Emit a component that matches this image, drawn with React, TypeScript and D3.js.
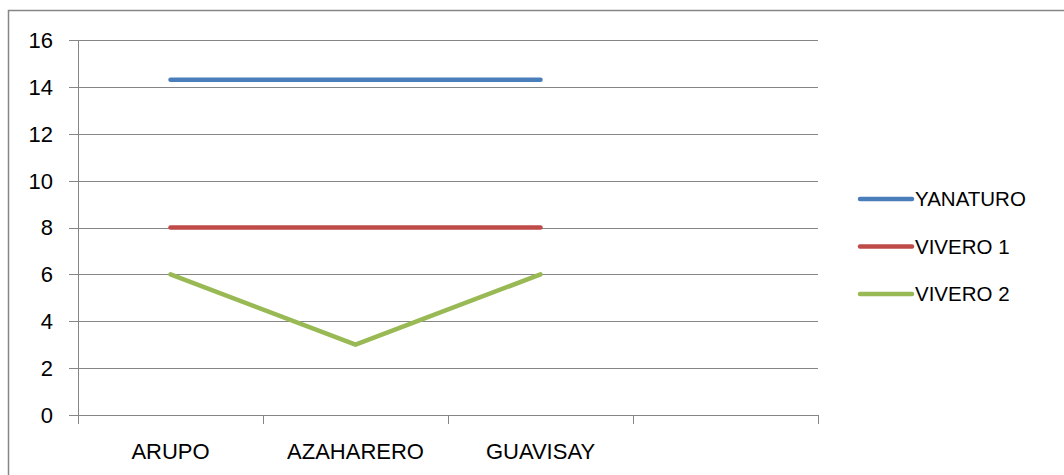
import React from 'react';
import * as d3 from 'd3';

const categories = ['ARUPO', 'AZAHARERO', 'GUAVISAY', ''];
const seriesNames = ['YANATURO', 'VIVERO 1', 'VIVERO 2'];
const yanaturo = [14.3, 14.3, 14.3];
const vivero1 = [8, 8, 8];
const vivero2 = [6, 3, 6];
const yTicks = [0, 2, 4, 6, 8, 10, 12, 14, 16];
const colors = ['#4a7ebb', '#be4b48', '#98b954'];

const W = 1064;
const H = 475;
const M = { top: 40, left: 78, right: 818, bottom: 415 };
const FONT = '"Liberation Sans", Arial, sans-serif';

export default function App() {
  const x = d3.scaleBand<string>().domain(categories.map((c, i) => `${i}`)).range([M.left, M.right]).paddingInner(0).paddingOuter(0);
  const y = d3.scaleLinear().domain([0, 16]).range([M.bottom, M.top]);
  const cx = (i: number) => (x(`${i}`) ?? 0) + x.bandwidth() / 2;

  const line = d3.line<number>().x((_, i) => cx(i)).y(d => y(d));
  const series = [yanaturo, vivero1, vivero2];

  const tickXs = categories.map((_, i) => x(`${i}`) ?? 0).concat([M.right]);

  return (
    <div style={{ position: 'fixed', left: 0, top: 0, width: W, height: H, background: '#fff' }}>
      <svg width={W} height={H} style={{ display: 'block' }} fontFamily={FONT}>
        {/* outer frame */}
        <rect x={8.5} y={10.5} width={W + 10} height={H + 10} fill="none" stroke="#868686" strokeWidth={1.5} />

        {/* gridlines + y ticks */}
        {yTicks.map(t => (
          <g key={t}>
            <line x1={69} x2={M.right} y1={Math.round(y(t)) + 0.5} y2={Math.round(y(t)) + 0.5} stroke="#868686" strokeWidth={1} />
            <text x={53} y={y(t)} dy="0.36em" textAnchor="end" fontSize={22} fill="#000">{t}</text>
          </g>
        ))}

        {/* y axis */}
        <line x1={M.left + 0.5} x2={M.left + 0.5} y1={M.top} y2={M.bottom} stroke="#868686" />

        {/* x ticks */}
        {tickXs.map((tx, i) => (
          <line key={i} x1={Math.round(tx) + 0.5} x2={Math.round(tx) + 0.5} y1={M.bottom} y2={M.bottom + 9} stroke="#868686" />
        ))}

        {/* x labels */}
        {categories.map((c, i) => (
          <text key={i} x={cx(i)} y={459} textAnchor="middle" fontSize={22} fill="#000">{c}</text>
        ))}

        {/* series */}
        {series.map((s, k) => (
          <path key={k} d={line(s) ?? ''} fill="none" stroke={colors[k]} strokeWidth={4.5} strokeLinecap="round" strokeLinejoin="round" />
        ))}

        {/* legend */}
        {seriesNames.map((n, k) => {
          const ly = 199 + k * 47.5;
          return (
            <g key={n}>
              <line x1={860} x2={912} y1={ly} y2={ly} stroke={colors[k]} strokeWidth={4.5} strokeLinecap="round" />
              <text x={915} y={ly} dy="0.36em" fontSize={20.5} fill="#000">{n}</text>
            </g>
          );
        })}
      </svg>
    </div>
  );
}
